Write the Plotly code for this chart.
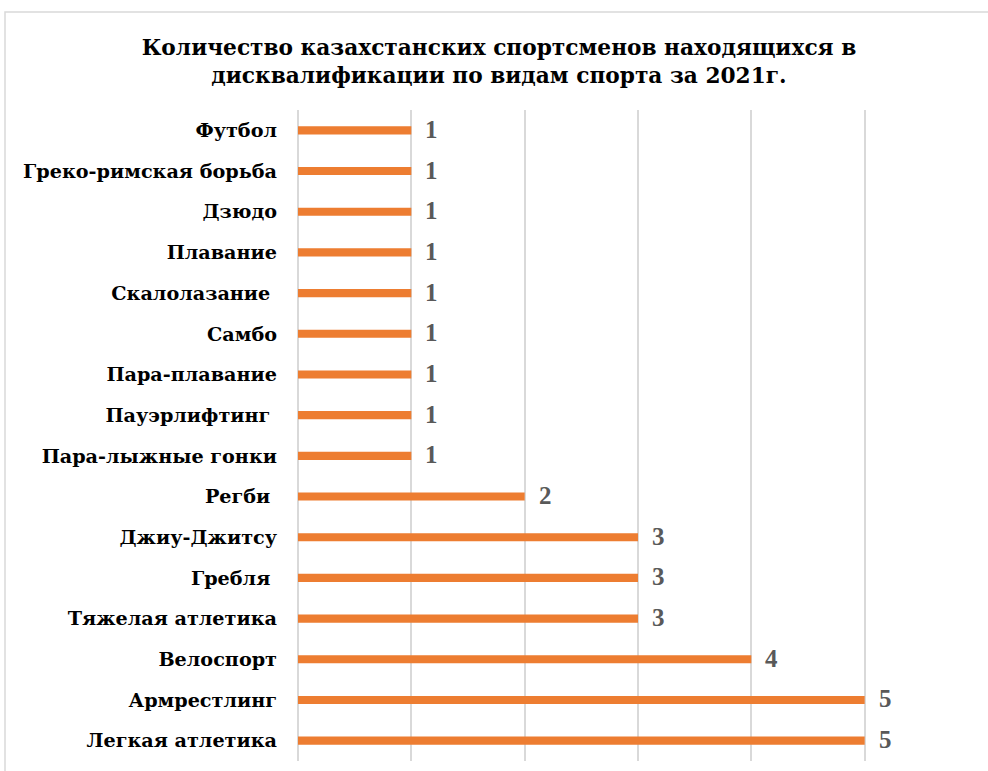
import plotly.graph_objects as go

# Sports, listed top to bottom
sports = [
    "Футбол",
    "Греко-римская борьба",
    "Дзюдо",
    "Плавание",
    "Скалолазание\u00a0",
    "Самбо",
    "Пара-плавание",
    "Пауэрлифтинг\u00a0",
    "Пара-лыжные гонки",
    "Регби\u00a0",
    "Джиу-Джитсу",
    "Гребля\u00a0",
    "Тяжелая атлетика",
    "Велоспорт",
    "Армрестлинг",
    "Легкая атлетика",
]
athletes = [1, 1, 1, 1, 1, 1, 1, 1, 1, 2, 3, 3, 3, 4, 5, 5]

title_text = ("Количество казахстанских спортсменов находящихся в<br>"
              "дисквалификации по видам спорта за 2021г.")

WIDE_SERIF = "DejaVu Serif"
SERIF = "Liberation Serif"
BAR_COLOR = "#ED7D31"
GRID_COLOR = "#D9D9D9"

W, H = 988, 771
L, R, T, B = 298, 10, 110, 10

fig = go.Figure(
    go.Bar(
        x=athletes,
        y=sports,
        orientation="h",
        marker=dict(color=BAR_COLOR, line=dict(width=0)),
        width=0.2,
        hoverinfo="x+y",
    )
)

# value labels next to each bar end
for s, v in zip(sports, athletes):
    fig.add_annotation(
        x=v, y=s, xref="x", yref="y",
        text=f"<b>{v}</b>", showarrow=False,
        xanchor="left", yanchor="middle", xshift=12, yshift=1,
        font=dict(family=SERIF, size=25, color="#595959"),
    )

# chart outline
pw, ph = W - L - R, H - T - B
fig.add_shape(
    type="rect", xref="paper", yref="paper",
    x0=(5 - L) / pw, x1=(992 - L) / pw,
    y0=(H - B - 776) / ph, y1=(H - B - 12) / ph,
    line=dict(color="#D9D9D9", width=1.5), fillcolor="rgba(0,0,0,0)",
    layer="below",
)

fig.update_layout(
    width=W, height=H,
    margin=dict(l=L, r=R, t=T, b=B),
    paper_bgcolor="white", plot_bgcolor="white",
    showlegend=False,
    title=dict(
        text=f"<b>{title_text}</b>",
        x=0.505, xref="container", xanchor="center",
        y=(H - 55) / H, yanchor="middle",
        font=dict(family=WIDE_SERIF, size=21.7, color="#000000"),
    ),
    xaxis=dict(
        range=[0, 6], dtick=1, showticklabels=False,
        showgrid=True, gridcolor=GRID_COLOR, gridwidth=1.5,
        zeroline=True, zerolinecolor=GRID_COLOR, zerolinewidth=1.5,
        showline=False, fixedrange=True,
    ),
    yaxis=dict(
        type="category", autorange="reversed",
        showgrid=False, zeroline=False, showline=False,
        ticks="", ticklabelstandoff=20,
        tickfont=dict(family=WIDE_SERIF, size=19.2, color="#000000", weight="bold"),
        fixedrange=True,
    ),
    bargap=0.8,
)

fig.write_html("out.html")
